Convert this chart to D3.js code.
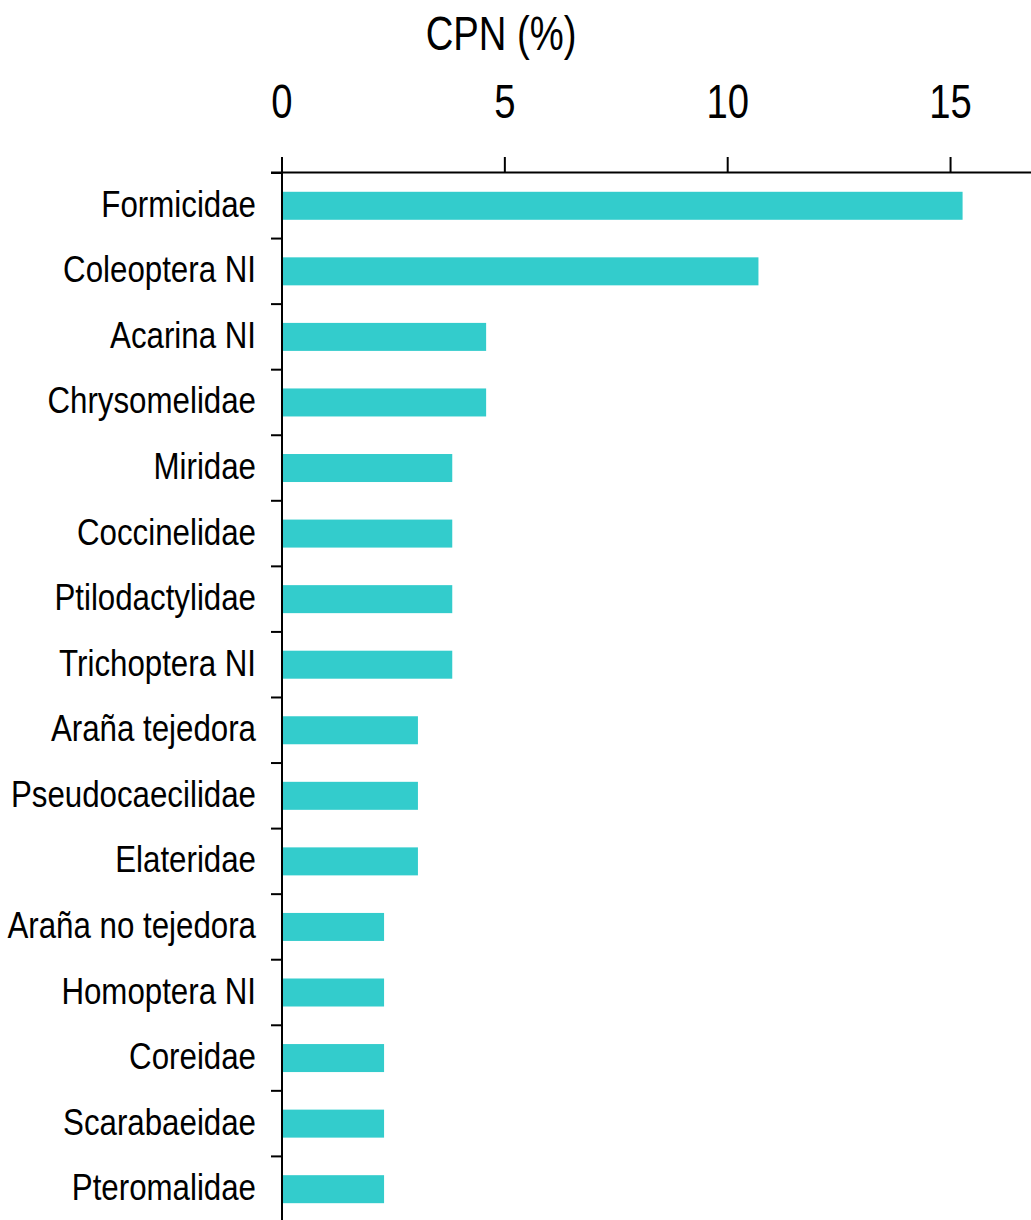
<!DOCTYPE html>
<html>
<head>
<meta charset="utf-8">
<script src="https://cdn.jsdelivr.net/npm/d3@7"></script>
<style>
  html, body { margin: 0; padding: 0; background: #fff; }
  svg { display: block; }
  text { font-family: "Liberation Sans", Arial, sans-serif; fill: #000; }
</style>
</head>
<body>
<svg id="chart" width="1031" height="1220"></svg>
<script>
const categories = ["Formicidae", "Coleoptera NI", "Acarina NI", "Chrysomelidae", "Miridae",
  "Coccinelidae", "Ptilodactylidae", "Trichoptera NI", "Araña tejedora", "Pseudocaecilidae",
  "Elateridae", "Araña no tejedora", "Homoptera NI", "Coreidae", "Scarabaeidae", "Pteromalidae"];
const values = [15.27, 10.69, 4.58, 4.58, 3.82, 3.82, 3.82, 3.82, 3.05, 3.05, 3.05,
  2.29, 2.29, 2.29, 2.29, 2.29];
const xTicks = [0, 5, 10, 15];
const axisTitle = "CPN (%)";

const svg = d3.select("#chart");
const x0 = 282, xAxisY = 172.5;
const x = d3.scaleLinear().domain([0, 17]).range([x0, x0 + 17 * 44.57]);
const y = d3.scaleBand().domain(categories).range([173, 173 + 16 * 65.56]).padding(0);
const barH = 28;

// bars
svg.append("g").selectAll("rect").data(categories).join("rect")
  .attr("x", x(0))
  .attr("y", (d) => y(d) + (y.bandwidth() - barH) / 2)
  .attr("width", (d, i) => x(values[i]) - x(0))
  .attr("height", barH)
  .attr("fill", "#33CCCC");

// x axis (top)
const xa = svg.append("g");
xa.append("line").attr("x1", 271).attr("x2", 1031).attr("y1", xAxisY).attr("y2", xAxisY)
  .attr("stroke", "#000").attr("stroke-width", 2);
xa.selectAll("line.t").data(xTicks).join("line").attr("class", "t")
  .attr("x1", (d) => x(d)).attr("x2", (d) => x(d))
  .attr("y1", xAxisY).attr("y2", 157)
  .attr("stroke", "#000").attr("stroke-width", 2);
xa.selectAll("text").data(xTicks).join("text")
  .attr("transform", (d) => `translate(${x(d)},118) scale(0.78,1)`)
  .attr("text-anchor", "middle")
  .style("font-size", "49px")
  .text((d) => d);

svg.append("text")
  .attr("transform", "translate(501,50) scale(0.78,1)")
  .attr("text-anchor", "middle")
  .style("font-size", "49px")
  .text(axisTitle);

// y axis (left)
const ya = svg.append("g");
ya.append("line").attr("x1", x0).attr("x2", x0).attr("y1", 157).attr("y2", 1220)
  .attr("stroke", "#000").attr("stroke-width", 2);
const bounds = categories.map((c) => y(c)).concat([y.range()[1]]);
ya.selectAll("line.t").data(bounds).join("line").attr("class", "t")
  .attr("x1", 271).attr("x2", x0)
  .attr("y1", (d) => d).attr("y2", (d) => d)
  .attr("stroke", "#000").attr("stroke-width", 2);
ya.selectAll("text").data(categories).join("text")
  .attr("transform", (d) => `translate(256,${y(d) + y.bandwidth() / 2 + 11}) scale(0.845,1)`)
  .attr("text-anchor", "end")
  .style("font-size", "37px")
  .text((d) => d);
</script>
</body>
</html>
